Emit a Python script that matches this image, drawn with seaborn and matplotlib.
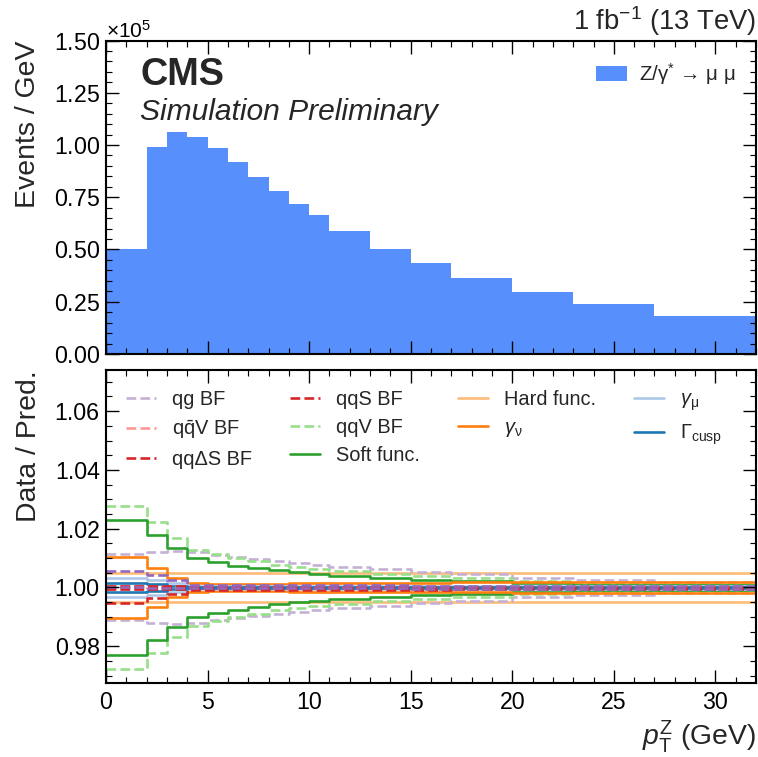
import numpy as np
import pandas as pd
import matplotlib
matplotlib.use("Agg")
import matplotlib.pyplot as plt
import seaborn as sns
from matplotlib.ticker import AutoMinorLocator, MultipleLocator, ScalarFormatter
from matplotlib.patches import Patch

# ---------------- data ----------------
bin_edges = [0, 2, 3, 4, 5, 6, 7, 8, 9, 10, 11, 13, 15, 17, 20, 23, 27, 32]
events_per_gev = [50200, 98900, 106400, 104000, 98400, 91700, 84900, 78200, 72000,
                  66400, 58800, 50300, 43500, 36300, 29600, 23700, 18200]

qg_up = [1.0113, 1.0120, 1.0125, 1.0122, 1.0112, 1.0104, 1.0097, 1.0090, 1.0083,
         1.0077, 1.0070, 1.0062, 1.0054, 1.0045, 1.0032, 1.0026, 1.0018]
qg_dn = [0.9888, 0.9880, 0.9875, 0.9878, 0.9888, 0.9896, 0.9903, 0.9910, 0.9917,
         0.9923, 0.9930, 0.9938, 0.9946, 0.9955, 0.9968, 0.9974, 0.9982]
qqbarV_up = [1.0004, 1.0003, 1.0003, 1.0002, 1.0002, 1.0002, 1.0002, 1.0002, 1.0002,
             1.0002, 1.0002, 1.0002, 1.0002, 1.0002, 1.0002, 1.0002, 1.0002]
qqbarV_dn = [0.9996, 0.9997, 0.9997, 0.9998, 0.9998, 0.9998, 0.9998, 0.9998, 0.9998,
             0.9998, 0.9998, 0.9998, 0.9998, 0.9998, 0.9998, 0.9998, 0.9998]
qqdS_up = [1.0002, 1.0002, 1.0001, 1.0001, 1.0001, 1.0001, 1.0001, 1.0001, 1.0001,
           1.0001, 1.0001, 1.0001, 1.0001, 1.0001, 1.0001, 1.0001, 1.0001]
qqdS_dn = [0.9947, 0.9965, 0.9978, 0.9990, 0.9991, 0.9991, 0.9991, 0.9992, 0.9992,
           0.9992, 0.9992, 0.9993, 0.9993, 0.9994, 0.9994, 0.9995, 0.9995]
qqS_up = [1.0005, 1.0004, 1.0004, 1.0003, 1.0003, 1.0003, 1.0003, 1.0003, 1.0003,
          1.0003, 1.0003, 1.0003, 1.0003, 1.0003, 1.0003, 1.0003, 1.0003]
qqS_dn = [0.9995, 0.9996, 0.9996, 0.9997, 0.9997, 0.9997, 0.9997, 0.9997, 0.9997,
          0.9997, 0.9997, 0.9997, 0.9997, 0.9997, 0.9997, 0.9997, 0.9997]
qqV_up = [1.0278, 1.0222, 1.0168, 1.0128, 1.0113, 1.0101, 1.0090, 1.0078, 1.0070,
          1.0063, 1.0055, 1.0045, 1.0040, 1.0031, 1.0021, 1.0014, 1.0010]
qqV_dn = [0.9722, 0.9778, 0.9832, 0.9870, 0.9885, 0.9898, 0.9910, 0.9922, 0.9930,
          0.9937, 0.9945, 0.9955, 0.9960, 0.9969, 0.9979, 0.9986, 0.9990]
soft_up = [1.0228, 1.0179, 1.0133, 1.0100, 1.0086, 1.0074, 1.0066, 1.0058, 1.0052,
           1.0046, 1.0040, 1.0031, 1.0026, 1.0021, 1.0016, 1.0010, 1.0007]
soft_dn = [0.9771, 0.9822, 0.9867, 0.9900, 0.9913, 0.9925, 0.9935, 0.9944, 0.9950,
           0.9955, 0.9960, 0.9968, 0.9974, 0.9979, 0.9984, 0.9990, 0.9993]
hard_up = [1.0049, 1.0049, 1.0049, 1.0049, 1.0049, 1.0049, 1.0049, 1.0049, 1.0049,
           1.0049, 1.0049, 1.0049, 1.0049, 1.0049, 1.0049, 1.0049, 1.0049]
hard_dn = [0.9951, 0.9951, 0.9951, 0.9951, 0.9951, 0.9951, 0.9951, 0.9951, 0.9951,
           0.9951, 0.9951, 0.9951, 0.9951, 0.9951, 0.9951, 0.9951, 0.9951]
gnu_up = [1.0104, 1.0067, 1.0033, 1.0014, 1.0013, 1.0013, 1.0013, 1.0013, 1.0014,
          1.0014, 1.0014, 1.0015, 1.0016, 1.0017, 1.0018, 1.0020, 1.0020]
gnu_dn = [0.9896, 0.9933, 0.9966, 0.9986, 0.9987, 0.9987, 0.9987, 0.9987, 0.9986,
          0.9986, 0.9986, 0.9985, 0.9984, 0.9983, 0.9982, 0.9980, 0.9980]
gmu_up = [1.0031, 1.0025, 1.0015, 1.0006, 1.0005, 1.0005, 1.0005, 1.0005, 1.0005,
          1.0005, 1.0005, 1.0005, 1.0005, 1.0005, 1.0005, 1.0005, 1.0005]
gmu_dn = [0.9969, 0.9975, 0.9985, 0.9994, 0.9995, 0.9995, 0.9995, 0.9995, 0.9995,
          0.9995, 0.9995, 0.9995, 0.9995, 0.9995, 0.9995, 0.9995, 0.9995]
cusp_up = [1.0016, 1.0011, 1.0006, 1.0003, 1.0002, 1.0002, 1.0002, 1.0002, 1.0002,
           1.0002, 1.0002, 1.0002, 1.0002, 1.0002, 1.0002, 1.0002, 1.0002]
cusp_dn = [0.9984, 0.9989, 0.9994, 0.9997, 0.9998, 0.9998, 0.9998, 0.9998, 0.9998,
           0.9998, 0.9998, 0.9998, 0.9998, 0.9998, 0.9998, 0.9998, 0.9998]
other_up = [1.0057, 1.0042, 1.0027, 1.0010, 1.0008, 1.0007, 1.0007, 1.0007, 1.0007,
            1.0007, 1.0007, 1.0007, 1.0006, 1.0006, 1.0006, 1.0006, 1.0006]
other_dn = [1.0000, 0.9999, 0.9999, 0.9998, 0.9998, 0.9998, 0.9997, 0.9997, 0.9997,
            0.9997, 0.9997, 0.9997, 0.9996, 0.9996, 0.9996, 0.9996, 0.9996]

source_labels = ["qg BF", r"q$\bar{\mathrm{q}}$V BF", "qqΔS BF", "qqS BF", "qqV BF",
                 "Soft func.", "Hard func.", r"$\gamma_{\mathrm{\nu}}$",
                 r"$\gamma_{\mathrm{\mu}}$", r"$\Gamma_{\mathrm{cusp}}$"]

# ---------------- style ----------------
sns.set_theme(style="ticks")
plt.rcParams["font.family"] = ["Liberation Sans", "DejaVu Sans"]
plt.rcParams["mathtext.fontset"] = "custom"
plt.rcParams["mathtext.rm"] = "Liberation Sans"
plt.rcParams["mathtext.it"] = "Liberation Sans:italic"
plt.rcParams["mathtext.bf"] = "Liberation Sans:bold"
plt.rcParams["axes.unicode_minus"] = False
plt.rcParams["axes.axisbelow"] = False
plt.rcParams["xtick.direction"] = "in"
plt.rcParams["ytick.direction"] = "in"
plt.rcParams["xtick.color"] = "black"
plt.rcParams["ytick.color"] = "black"

DPI = 75.8
fig = plt.figure(figsize=(758 / DPI, 757 / DPI), dpi=DPI)
fig.patch.set_facecolor("white")
W, H = 758, 757
ax1 = fig.add_axes([106 / W, 1 - 354 / H, (756 - 106) / W, (354 - 40.5) / H])
ax2 = fig.add_axes([106 / W, 1 - 683 / H, (756 - 106) / W, (683 - 370) / H])

tick_fs = 22
label_fs = 27


def style_axis(ax):
    ax.set_axisbelow(False)
    for s in ax.spines.values():
        s.set_linewidth(2.0)
        s.set_color("black")
        s.set_zorder(5)
    ax.set_facecolor("white")
    ax.tick_params(which="both", direction="in", top=True, right=True,
                   bottom=True, left=True, colors="black", labelsize=tick_fs,
                   zorder=6)
    ax.tick_params(which="major", length=12, width=1.3, pad=6)
    ax.tick_params(which="minor", length=6, width=1.1)
    ax.xaxis.set_major_locator(MultipleLocator(5))
    ax.xaxis.set_minor_locator(AutoMinorLocator(5))
    ax.grid(False)


# ---------------- upper panel ----------------
edges = np.array(bin_edges, dtype=float)
centers = 0.5 * (edges[:-1] + edges[1:])
hist_color = "#5790fc"
sns.histplot(x=centers, weights=events_per_gev, bins=bin_edges, element="step",
             fill=True, color=hist_color, alpha=1.0, linewidth=0, ax=ax1)
ax1.set_xlim(0, 32)
ax1.set_ylim(0, 1.5e5)
style_axis(ax1)
ax1.yaxis.set_major_locator(MultipleLocator(25000))
ax1.yaxis.set_minor_locator(AutoMinorLocator(5))
fmt = ScalarFormatter(useMathText=True)
fmt.set_powerlimits((5, 5))
ax1.yaxis.set_major_formatter(fmt)
ax1.yaxis.get_offset_text().set_fontsize(20)
ax1.tick_params(axis="x", labelbottom=False)
ax1.set_xlabel("")
ax1.set_ylabel("Events / GeV", fontsize=label_fs, loc="top", labelpad=12)
ax1.legend(handles=[Patch(facecolor=hist_color, edgecolor="none",
                          label="Z/γ$^{*}$ → μ μ")],
           loc="upper right", frameon=False, fontsize=19.5, handlelength=1.5,
           borderpad=0.5, borderaxespad=0.5, handletextpad=0.6)
ax1.text(0.053, 0.857, "CMS", transform=ax1.transAxes, fontsize=36,
         fontweight="bold", ha="left", va="baseline")
ax1.text(0.053, 0.748, "Simulation Preliminary", transform=ax1.transAxes,
         fontsize=28.5, fontstyle="italic", ha="left", va="baseline")
ax1.text(1.0, 1.035, "1 fb$^{-1}$ (13 TeV)", transform=ax1.transAxes,
         fontsize=26, ha="right", va="baseline")

# ---------------- lower panel ----------------
series = [
    ("Hard func.", hard_up, hard_dn, "#ffbb78", "-", True),
    ("qg BF", qg_up, qg_dn, "#c5b0d5", "--", True),
    ("qqV BF", qqV_up, qqV_dn, "#98df8a", "--", True),
    ("Soft func.", soft_up, soft_dn, "#2ca02c", "-", True),
    ("gnu", gnu_up, gnu_dn, "#ff7f0e", "-", True),
    ("gmu", gmu_up, gmu_dn, "#aec7e8", "-", True),
    ("cusp", cusp_up, cusp_dn, "#1f77b4", "-", True),
    ("qqbarV", qqbarV_up, qqbarV_dn, "#ff9896", "--", True),
    ("qqS", qqS_up, qqS_dn, "#d62728", "--", True),
    ("qqdS", qqdS_up, qqdS_dn, "#d62728", "--", True),
    ("other", other_up, other_dn, "#9467bd", "--", False),
]
name_to_label = {"Hard func.": source_labels[6], "qg BF": source_labels[0],
                 "qqV BF": source_labels[4], "Soft func.": source_labels[5],
                 "gnu": source_labels[7], "gmu": source_labels[8],
                 "cusp": source_labels[9], "qqbarV": source_labels[1],
                 "qqS": source_labels[3], "qqdS": source_labels[2]}

handles = {}
for name, up, dn, col, ls, in_leg in series:
    for vals in (up, dn):
        yv = list(vals) + [vals[-1]]
        sns.lineplot(x=bin_edges, y=yv, ax=ax2, color=col, linestyle=ls,
                     linewidth=2.5, drawstyle="steps-post", sort=False,
                     estimator=None, legend=False)
        line = ax2.lines[-1]
    if in_leg:
        handles[name_to_label[name]] = line

ax2.set_xlim(0, 32)
ax2.set_ylim(0.9675, 1.074)
style_axis(ax2)
ax2.yaxis.set_major_locator(MultipleLocator(0.02))
ax2.yaxis.set_minor_locator(AutoMinorLocator(4))
ax2.yaxis.set_major_formatter(matplotlib.ticker.FormatStrFormatter("%.2f"))
ax2.set_ylabel("Data / Pred.", fontsize=label_fs, loc="top", labelpad=12)
ax2.set_xlabel(r"$p_{\mathrm{T}}^{\mathrm{Z}}$ (GeV)", fontsize=label_fs, loc="right")
ax2.tick_params(axis="x", pad=8)

leg_handles = [handles[l] for l in source_labels]
ax2.legend(leg_handles, source_labels, ncol=4, loc="upper left", frameon=False,
           fontsize=19, handlelength=1.5, borderpad=0.5, borderaxespad=0.5,
           labelspacing=0.45, columnspacing=1.9, handletextpad=0.8)

fig.align_ylabels([ax1, ax2])
fig.savefig("out.png", dpi=DPI, facecolor="white")
